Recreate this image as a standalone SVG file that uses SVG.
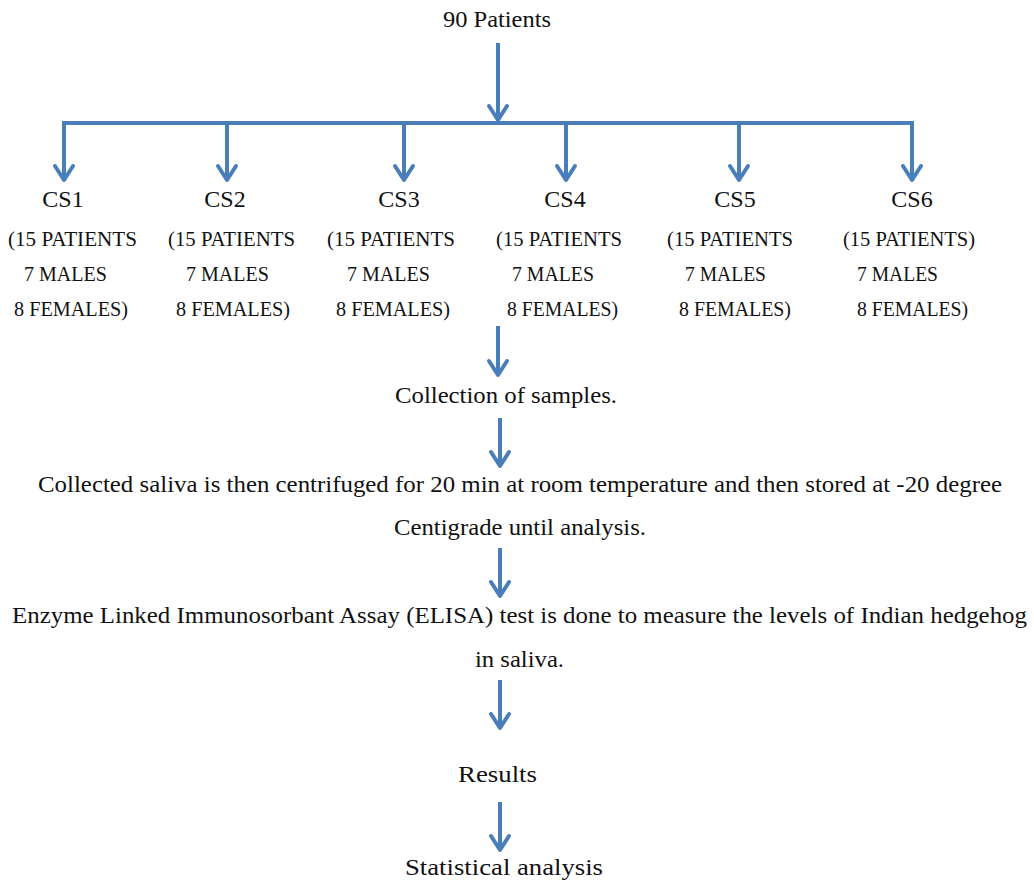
<svg xmlns="http://www.w3.org/2000/svg" width="1034" height="881" viewBox="0 0 1034 881">
<style>
  .t { fill: #111; }
  .main { font-size: 24px; }
  .cs { font-size: 24px; text-anchor: middle; }
  .sub { font-size: 20px; }
  .ln { stroke: #4a7ebb; stroke-width: 4; fill: none; }
</style>
<defs>
  <marker id="ah" markerUnits="userSpaceOnUse" orient="auto" refX="0" refY="0" markerWidth="30" markerHeight="30" viewBox="-20 -15 25 30" overflow="visible">
    <path d="M-14,-9 L0,0 L-14,9" fill="none" stroke="#4a7ebb" stroke-width="4" stroke-linejoin="round" stroke-linecap="round"/>
  </marker>
</defs>
<rect width="1034" height="881" fill="#ffffff"/>

<g id="connectors">
  <line class="ln" x1="498" y1="43" x2="498" y2="120" marker-end="url(#ah)"/>
  <path class="ln" d="M64,123 H912"/>
  <line class="ln" x1="64" y1="121" x2="64" y2="180" marker-end="url(#ah)"/>
  <line class="ln" x1="227" y1="123" x2="227" y2="180" marker-end="url(#ah)"/>
  <line class="ln" x1="404" y1="123" x2="404" y2="180" marker-end="url(#ah)"/>
  <line class="ln" x1="566" y1="123" x2="566" y2="180" marker-end="url(#ah)"/>
  <line class="ln" x1="739" y1="123" x2="739" y2="180" marker-end="url(#ah)"/>
  <line class="ln" x1="912" y1="121" x2="912" y2="180" marker-end="url(#ah)"/>
  <line class="ln" x1="498" y1="326" x2="498" y2="375" marker-end="url(#ah)"/>
  <line class="ln" x1="500" y1="418" x2="500" y2="466" marker-end="url(#ah)"/>
  <line class="ln" x1="500" y1="548" x2="500" y2="596" marker-end="url(#ah)"/>
  <line class="ln" x1="500" y1="680" x2="500" y2="728" marker-end="url(#ah)"/>
  <line class="ln" x1="500" y1="802" x2="500" y2="850" marker-end="url(#ah)"/>
</g>

<g font-family="'Liberation Serif', 'DejaVu Serif', serif">
<g id="node-patients">
  <text class="t main" x="443" y="27" textLength="108" lengthAdjust="spacingAndGlyphs">90 Patients</text>
</g>

<g id="node-cs1">
  <text class="t cs" x="63" y="207">CS1</text>
  <text class="t sub" x="8" y="246" textLength="129" lengthAdjust="spacingAndGlyphs">(15 PATIENTS</text>
  <text class="t sub" x="24" y="281" textLength="83" lengthAdjust="spacingAndGlyphs">7 MALES</text>
  <text class="t sub" x="14" y="316" textLength="114" lengthAdjust="spacingAndGlyphs">8 FEMALES)</text>
</g>
<g id="node-cs2">
  <text class="t cs" x="225" y="207">CS2</text>
  <text class="t sub" x="168" y="246" textLength="127" lengthAdjust="spacingAndGlyphs">(15 PATIENTS</text>
  <text class="t sub" x="186" y="281" textLength="83" lengthAdjust="spacingAndGlyphs">7 MALES</text>
  <text class="t sub" x="176" y="316" textLength="114" lengthAdjust="spacingAndGlyphs">8 FEMALES)</text>
</g>
<g id="node-cs3">
  <text class="t cs" x="399" y="207">CS3</text>
  <text class="t sub" x="327" y="246" textLength="128" lengthAdjust="spacingAndGlyphs">(15 PATIENTS</text>
  <text class="t sub" x="347" y="281" textLength="83" lengthAdjust="spacingAndGlyphs">7 MALES</text>
  <text class="t sub" x="336" y="316" textLength="114" lengthAdjust="spacingAndGlyphs">8 FEMALES)</text>
</g>
<g id="node-cs4">
  <text class="t cs" x="565" y="207">CS4</text>
  <text class="t sub" x="496" y="246" textLength="126" lengthAdjust="spacingAndGlyphs">(15 PATIENTS</text>
  <text class="t sub" x="512" y="281" textLength="82" lengthAdjust="spacingAndGlyphs">7 MALES</text>
  <text class="t sub" x="507" y="316" textLength="111" lengthAdjust="spacingAndGlyphs">8 FEMALES)</text>
</g>
<g id="node-cs5">
  <text class="t cs" x="735" y="207">CS5</text>
  <text class="t sub" x="667" y="246" textLength="126" lengthAdjust="spacingAndGlyphs">(15 PATIENTS</text>
  <text class="t sub" x="685" y="281" textLength="81" lengthAdjust="spacingAndGlyphs">7 MALES</text>
  <text class="t sub" x="679" y="316" textLength="112" lengthAdjust="spacingAndGlyphs">8 FEMALES)</text>
</g>
<g id="node-cs6">
  <text class="t cs" x="912" y="207">CS6</text>
  <text class="t sub" x="843" y="246" textLength="132" lengthAdjust="spacingAndGlyphs">(15 PATIENTS)</text>
  <text class="t sub" x="857" y="281" textLength="81" lengthAdjust="spacingAndGlyphs">7 MALES</text>
  <text class="t sub" x="857" y="316" textLength="111" lengthAdjust="spacingAndGlyphs">8 FEMALES)</text>
</g>

<g id="node-collection">
  <text class="t main" x="395" y="403" textLength="222" lengthAdjust="spacingAndGlyphs">Collection of samples.</text>
</g>
<g id="node-centrifuge">
  <text class="t main" x="38" y="492" textLength="964" lengthAdjust="spacingAndGlyphs">Collected saliva is then centrifuged for 20 min at room temperature and then stored at -20 degree</text>
  <text class="t main" x="394" y="535" textLength="252" lengthAdjust="spacingAndGlyphs">Centigrade until analysis.</text>
</g>
<g id="node-elisa">
  <text class="t main" x="12" y="623" textLength="1015" lengthAdjust="spacingAndGlyphs">Enzyme Linked Immunosorbant Assay (ELISA) test is done to measure the levels of Indian hedgehog</text>
  <text class="t main" x="475" y="667" textLength="89" lengthAdjust="spacingAndGlyphs">in saliva.</text>
</g>
<g id="node-results">
  <text class="t main" x="458" y="782" textLength="79" lengthAdjust="spacingAndGlyphs">Results</text>
</g>
<g id="node-stats">
  <text class="t main" x="405" y="875" textLength="198" lengthAdjust="spacingAndGlyphs">Statistical analysis</text>
</g>
</g>
</svg>
